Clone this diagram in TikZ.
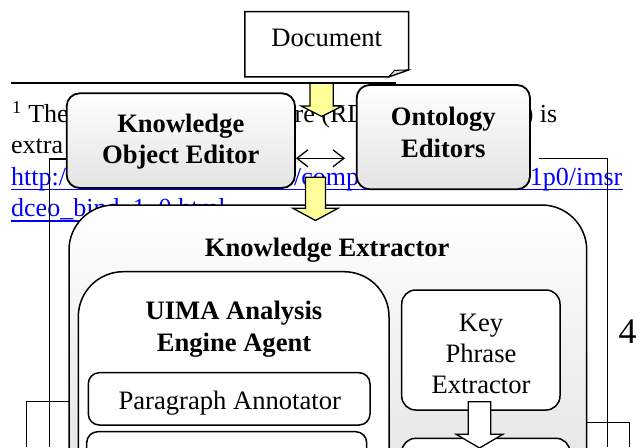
\documentclass[tikz,border=0pt]{standalone}
\usepackage{fontspec}
\setmainfont{Liberation Serif}
\usetikzlibrary{arrows.meta,calc}
\definecolor{ylw}{RGB}{255,255,153}
\definecolor{urlblue}{RGB}{0,0,255}
\begin{document}
\begin{tikzpicture}[x=1pt,y=-1pt,
  ftext/.style={font=\fontsize{26}{31.4}\selectfont, inner sep=0pt},
  btext/.style={font=\fontsize{26.6}{31.5}\selectfont\bfseries, align=center, inner sep=0pt},
  rtext/.style={font=\fontsize{26.6}{31}\selectfont, align=center, inner sep=0pt},
  frameline/.style={line width=1.3pt},
  gbox/.style={draw, line width=1.8pt, rounded corners=13pt, top color=white, bottom color=gray!22, inner sep=0pt},
  wbox/.style={draw, fill=white, line width=1.5pt, inner sep=0pt},
  yarrow/.style={draw, fill=ylw, line width=1.3pt, line join=miter},
  warrow/.style={draw, fill=white, line width=1.3pt, line join=miter},
  barb/.style={line width=1.3pt, {Straight Barb[length=11pt,width=17pt]}-{Straight Barb[length=11pt,width=17pt]}},
]
\useasboundingbox (0,0) rectangle (639,447);
\clip (0,0) rectangle (639,447);
\fill[white] (0,0) rectangle (639,447);

% footnote text (partly hidden by the diagram)
\node[ftext, anchor=base west] (fn1a) at (12,122.5) {\textsuperscript{1} The};
\node[ftext, anchor=base west] (fn1b) at (294.5,122.5) {re (RD};
\node[ftext, anchor=base east] (fn1c) at (557.5,122.5) {) is};
\node[ftext, anchor=base west] (fn2) at (11,153.9) {extra};
\node[ftext, anchor=base west, text=urlblue] (fn3a) at (11,185.3) {http:/};
\node[ftext, anchor=base west, text=urlblue] (fn3b) at (294,185.3) {/comp};
\node[ftext, anchor=base east, text=urlblue] (fn3c) at (622.5,185.3) {1p0/imsr};
\node[ftext, anchor=base west, text=urlblue] (fn4) at (11,216.7) {dceo\_bind\_1\_0.html};
\draw[urlblue, line width=1.3pt] ($(fn3a.base west)+(0,4.2)$) -- ($(fn3c.base east)+(0,4.2)$);
\draw[urlblue, line width=1.3pt] ($(fn4.base west)+(0,4.2)$) -- ($(fn4.base east)+(0,4.2)$);
\draw[line width=1.7pt] (11,83.3) -- (396,83.3);

% frame lines of the page
\draw[frameline] (49.3,447) -- (49.3,159) -- (120,159);
\draw[frameline] (539.3,158.3) -- (607.3,158.3) -- (607.3,447);
\draw[frameline] (26.7,447) -- (26.7,401.7) -- (90,401.7);
\draw[frameline] (560,422.7) -- (629.3,422.7) -- (629.3,447);

% Document
\node[minimum width=163.3pt, minimum height=65pt, inner sep=0pt] (doc) at (326.65,44.2) {};
\draw[fill=white, line width=1.5pt] (doc.north west) -- (doc.north east) -- ($(doc.south east)+(0,-7)$) -- ($(doc.south east)+(-20,0)$) -- (doc.south west) -- cycle;
\draw[fill=gray!25, line width=1pt] ($(doc.south east)+(-20,0)$) -- ($(doc.south east)+(-14,-6.5)$) -- ($(doc.south east)+(0,-7)$) -- cycle;
\node[rtext, anchor=base] (doct) at (326.7,46.7) {Document};

% yellow arrow 1
\path[yarrow] (310,83.3) -- (333.3,83.3) -- (333.3,106) -- (342.2,106) -- (321.7,116.5) -- (301.2,106) -- (310,106) -- cycle;

% editors
\node[gbox, minimum width=228.3pt, minimum height=94.7pt] (koe) at (180.85,140.65) {};
\node[btext] (koet) at (180.8,141.5) {Knowledge\\Object Editor};
\node[gbox, minimum width=173.3pt, minimum height=104.3pt] (ont) at (443.35,137.15) {};
\node[btext] (ontt) at (443.3,132.3) {Ontology\\Editors};
\coordinate (darr) at (345,158.3);
\draw[barb] (koe.east |- darr) -- (darr);

% Knowledge Extractor
\node[draw, line width=1.5pt, rounded corners=45pt, top color=white, bottom color=gray!30, minimum width=517.7pt, minimum height=395pt, inner sep=0pt] (ke) at (327.85,402.5) {};
\node[btext, anchor=base] (ket) at (327.2,256) {Knowledge Extractor};

% yellow arrow 2
\path[yarrow] (305.5,177.3) -- (325.5,177.3) -- (325.5,208.3) -- (338,208.3) -- (315.5,220.5) -- (293,208.3) -- (305.5,208.3) -- cycle;

% UIMA
\node[wbox, rounded corners=45pt, minimum width=310.7pt, minimum height=288.3pt] (uima) at (233.65,415.85) {};
\node[btext] (uimat) at (234,329.45) {UIMA Analysis\\Engine Agent};
\node[wbox, rounded corners=11pt, minimum width=281.7pt, minimum height=52.3pt] (para) at (229.15,398.85) {};
\node[rtext, anchor=base] (parat) at (229.8,409.3) {Paragraph Annotator};
\node[wbox, rounded corners=11pt, minimum width=280pt, minimum height=52.3pt] (low1) at (226.7,457.85) {};

% Key phrase extractor
\node[wbox, rounded corners=14pt, minimum width=158.3pt, minimum height=120pt] (key) at (480.85,350) {};
\node[rtext] (keyt) at (481,354.05) {Key\\Phrase\\Extractor};
\node[wbox, rounded corners=14pt, minimum width=168.3pt, minimum height=120pt] (low2) at (485.85,498.3) {};
\path[warrow] (468.3,401.7) -- (490.7,401.7) -- (490.7,434.3) -- (502.8,434.3) -- (479.5,448) -- (456.2,434.3) -- (468.3,434.3) -- cycle;

% page number
\node[font=\fontsize{36}{40}\selectfont, anchor=base, inner sep=0pt] (pg) at (627.5,343.3) {4};
\end{tikzpicture}
\end{document}
